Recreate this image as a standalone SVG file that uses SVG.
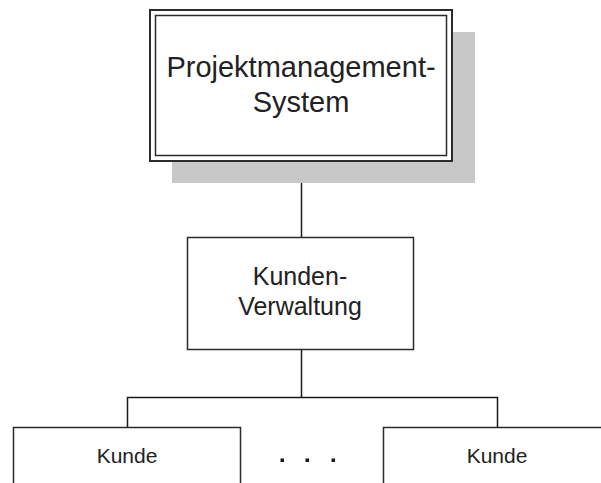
<svg xmlns="http://www.w3.org/2000/svg" width="601" height="483" viewBox="0 0 601 483">
  <style>
    .box { fill: #ffffff; stroke: #2b2b2b; }
    .wire { fill: none; stroke: #1a1a1a; stroke-width: 1.5; }
    .label { font-family: "Liberation Sans", Arial, sans-serif; fill: #222222; text-anchor: middle; }
  </style>
  <rect width="601" height="483" fill="#ffffff"/>

  <!-- connectors -->
  <g id="connectors">
    <line class="wire" x1="301.5" y1="161" x2="301.5" y2="237"/>
    <line class="wire" x1="301.5" y1="349" x2="301.5" y2="397"/>
    <polyline class="wire" points="127.5,427 127.5,397.5 497.5,397.5 497.5,427"/>
  </g>

  <!-- top node with drop shadow and double frame -->
  <g id="node-system">
    <rect x="172" y="32" width="303" height="151" fill="#c8c8c8"/>
    <rect class="box" x="150" y="10" width="302" height="151" stroke-width="2"/>
    <rect x="155.5" y="15.5" width="291" height="140" fill="none" stroke="#2b2b2b" stroke-width="1.5"/>
    <text class="label" x="301" y="77" font-size="29">Projektmanagement-</text>
    <text class="label" x="301" y="112" font-size="29">System</text>
  </g>

  <g id="node-verwaltung">
    <rect class="box" x="187.5" y="237.5" width="226" height="112" stroke-width="1.5"/>
    <text class="label" x="300" y="285" font-size="25">Kunden-</text>
    <text class="label" x="300" y="315" font-size="25">Verwaltung</text>
  </g>

  <g id="node-kunde-1">
    <rect class="box" x="13.5" y="427.5" width="227" height="72" stroke-width="1.5"/>
    <text class="label" x="127" y="463" font-size="21">Kunde</text>
  </g>

  <g id="node-kunde-n">
    <rect class="box" x="383.5" y="427.5" width="231" height="72" stroke-width="1.5"/>
    <text class="label" x="497" y="463" font-size="21">Kunde</text>
  </g>

  <g id="ellipsis" fill="#1a1a1a">
    <rect x="280.5" y="458.5" width="3.5" height="3.5"/>
    <rect x="305.5" y="458.5" width="3.5" height="3.5"/>
    <rect x="331.5" y="458.5" width="3.5" height="3.5"/>
  </g>
</svg>
